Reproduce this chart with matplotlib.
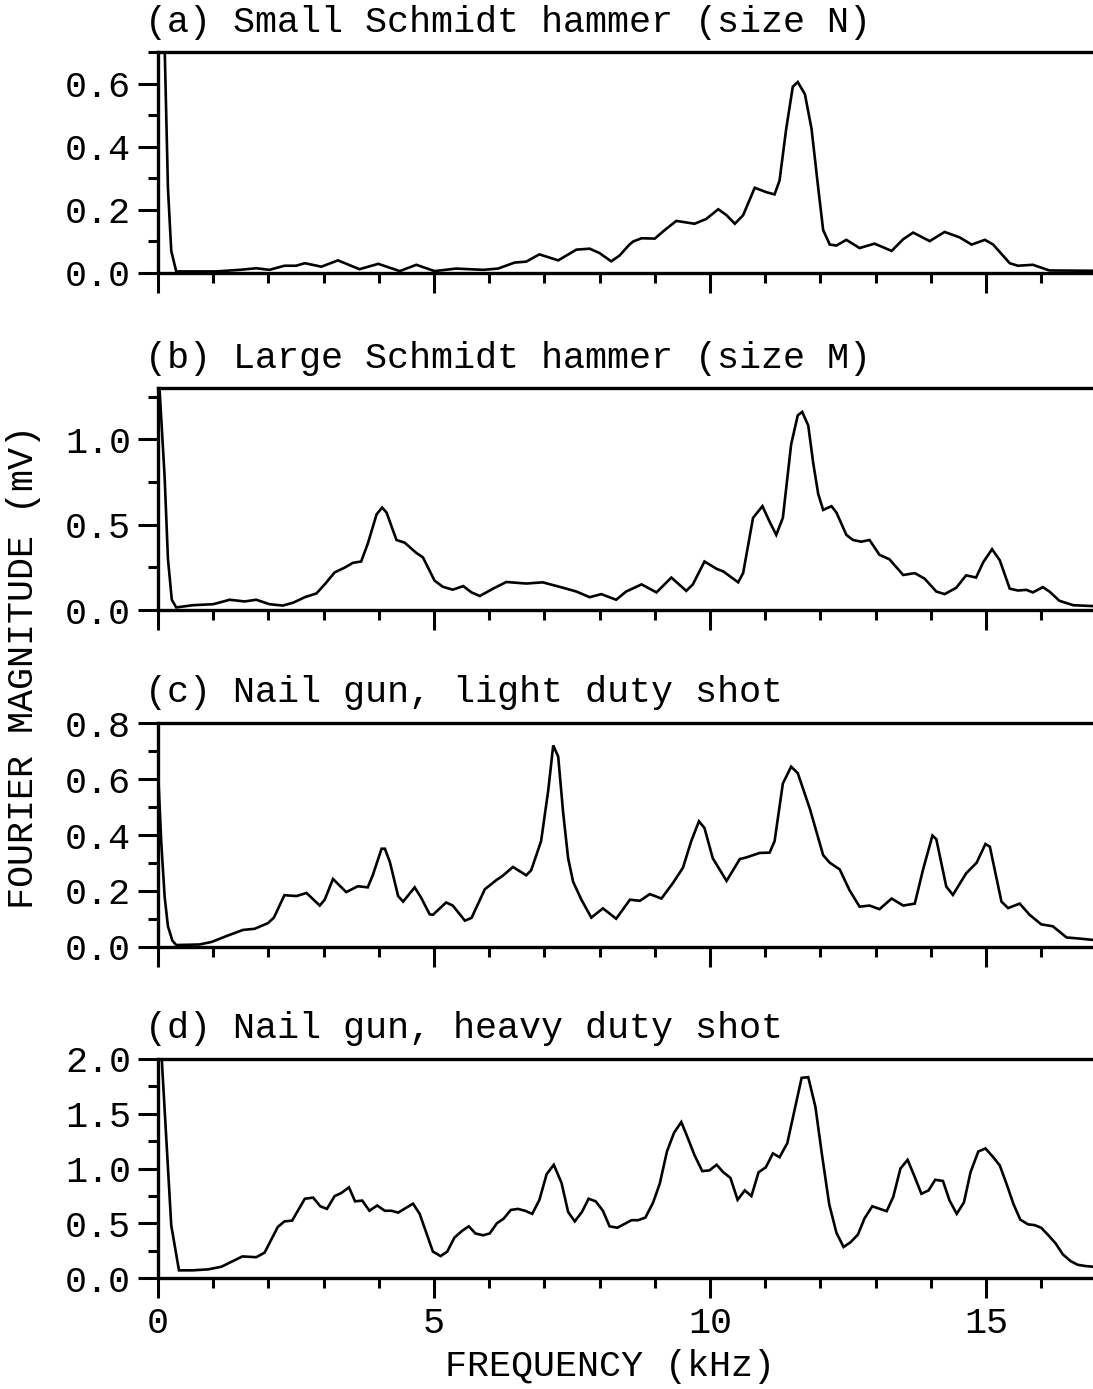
import matplotlib
matplotlib.use("Agg")
import matplotlib.pyplot as plt
from matplotlib.ticker import FixedLocator, FormatStrFormatter, NullFormatter

# ---- spectra (frequency in kHz, magnitude in mV) ----
freq_a = [0.0, 0.12, 0.18, 0.24, 0.33, 1.06, 1.48, 1.78, 2.02, 2.29, 2.5, 2.66, 2.96, 3.26,
          3.65, 3.99, 4.38, 4.68, 5.01, 5.40, 5.89, 6.16, 6.46, 6.67, 6.91, 7.25, 7.58, 7.82,
          8.0, 8.21, 8.36, 8.54, 8.61, 8.76, 9.0, 9.18, 9.39, 9.72, 9.93, 10.15, 10.30, 10.45,
          10.6, 10.81, 11.02, 11.17, 11.26, 11.38, 11.5, 11.59, 11.72, 11.84, 11.96, 12.05,
          12.17, 12.29, 12.47, 12.71, 12.98, 13.29, 13.5, 13.68, 13.98, 14.25, 14.52, 14.74,
          14.98, 15.13, 15.43, 15.58, 15.85, 16.15, 17.0]
mag_a = [1.6, 0.72, 0.27, 0.07, 0.005, 0.005, 0.01, 0.015, 0.01, 0.023, 0.023, 0.031, 0.02, 0.04,
         0.012, 0.029, 0.006, 0.026, 0.006, 0.014, 0.01, 0.014, 0.033, 0.036, 0.059, 0.04, 0.074, 0.077,
         0.063, 0.037, 0.055, 0.090, 0.10, 0.11, 0.109, 0.136, 0.165, 0.156, 0.171, 0.202, 0.183, 0.156,
         0.183, 0.27, 0.256, 0.249, 0.293, 0.456, 0.59, 0.605, 0.566, 0.456, 0.27, 0.136,
         0.09, 0.087, 0.105, 0.079, 0.093, 0.07, 0.107, 0.128, 0.101, 0.13, 0.113, 0.09,
         0.105, 0.09, 0.031, 0.023, 0.026, 0.008, 0.007]

freq_b = [0.0, 0.12, 0.18, 0.25, 0.33, 0.63, 1.0, 1.3, 1.57, 1.78, 2.02, 2.26, 2.45, 2.66, 2.87,
          3.02, 3.2, 3.38, 3.53, 3.68, 3.8, 3.96, 4.06, 4.14, 4.32, 4.47, 4.68, 4.8, 5.01, 5.16,
          5.34, 5.53, 5.68, 5.83, 6.07, 6.31, 6.67, 6.97, 7.34, 7.58, 7.82, 8.03, 8.3, 8.48,
          8.76, 9.03, 9.3, 9.57, 9.69, 9.9, 10.12, 10.24, 10.51, 10.6, 10.78, 10.95, 11.08,
          11.2, 11.32, 11.47, 11.59, 11.67, 11.78, 11.87, 11.96, 12.05, 12.2, 12.29, 12.47,
          12.59, 12.74, 12.89, 13.07, 13.25, 13.5, 13.71, 13.89, 14.1, 14.25, 14.46, 14.64,
          14.82, 14.95, 15.11, 15.25, 15.43, 15.58, 15.73, 15.85, 16.03, 16.15, 16.33, 16.58, 17.0]
mag_b = [1.45, 0.78, 0.30, 0.06, 0.015, 0.028, 0.034, 0.06, 0.05, 0.06, 0.034, 0.026, 0.043, 0.075, 0.097,
         0.15, 0.22, 0.248, 0.276, 0.284, 0.388, 0.56, 0.60, 0.571, 0.41, 0.394, 0.334, 0.308, 0.172, 0.136,
         0.119, 0.14, 0.103, 0.082, 0.125, 0.164, 0.155, 0.162, 0.13, 0.108, 0.075, 0.093, 0.06, 0.108,
         0.15, 0.103, 0.19, 0.112, 0.15, 0.284, 0.241, 0.226, 0.162, 0.216, 0.54, 0.608, 0.517,
         0.44, 0.54, 0.97, 1.14, 1.16, 1.08, 0.86, 0.68, 0.586, 0.608, 0.571, 0.44,
         0.41, 0.40, 0.41, 0.323, 0.297, 0.205, 0.216, 0.183, 0.108, 0.093, 0.13, 0.203,
         0.19, 0.28, 0.356, 0.291, 0.125, 0.114, 0.118, 0.103, 0.134, 0.108, 0.054, 0.028, 0.022]

freq_c = [0.0, 0.06, 0.12, 0.18, 0.26, 0.33, 0.75, 0.97, 1.24, 1.54, 1.75, 1.99, 2.10, 2.29, 2.51,
          2.69, 2.93, 3.02, 3.17, 3.41, 3.62, 3.8, 3.89, 4.05, 4.11, 4.2, 4.35, 4.44, 4.65, 4.77,
          4.92, 4.98, 5.22, 5.34, 5.56, 5.68, 5.92, 6.13, 6.25, 6.43, 6.67, 6.76, 6.94, 7.07,
          7.16, 7.25, 7.34, 7.43, 7.52, 7.67, 7.85, 8.06, 8.3, 8.55, 8.73, 8.91, 9.12, 9.33,
          9.51, 9.66, 9.8, 9.9, 10.05, 10.3, 10.54, 10.66, 10.9, 11.08, 11.17, 11.32, 11.47,
          11.59, 11.81, 12.05, 12.17, 12.35, 12.53, 12.71, 12.89, 13.07, 13.29, 13.5, 13.71,
          13.86, 14.03, 14.1, 14.28, 14.4, 14.64, 14.83, 14.99, 15.07, 15.28, 15.4, 15.61,
          15.79, 16.0, 16.21, 16.46, 16.7, 17.0]
mag_c = [0.63, 0.37, 0.18, 0.074, 0.023, 0.007, 0.009, 0.018, 0.039, 0.061, 0.065, 0.085, 0.105, 0.185, 0.182,
         0.193, 0.148, 0.169, 0.243, 0.196, 0.217, 0.213, 0.256, 0.351, 0.351, 0.304, 0.182, 0.162, 0.213, 0.175,
         0.117, 0.115, 0.159, 0.148, 0.094, 0.104, 0.206, 0.239, 0.255, 0.286, 0.256, 0.274, 0.378, 0.56,
         0.72, 0.68, 0.479, 0.317, 0.233, 0.169, 0.105, 0.138, 0.101, 0.169, 0.165, 0.189, 0.173, 0.229,
         0.283, 0.378, 0.449, 0.425, 0.317, 0.236, 0.314, 0.32, 0.336, 0.337, 0.378, 0.584, 0.644,
         0.621, 0.493, 0.328, 0.301, 0.277, 0.202, 0.144, 0.148, 0.135, 0.173, 0.148, 0.155,
         0.277, 0.398, 0.385, 0.216, 0.186, 0.263, 0.301, 0.368, 0.358, 0.162, 0.139, 0.155,
         0.115, 0.081, 0.074, 0.034, 0.03, 0.024]

freq_d = [0.0, 0.24, 0.38, 0.63, 0.91, 1.15, 1.33, 1.53, 1.78, 1.93, 2.17, 2.29, 2.43, 2.66, 2.81,
          2.94, 3.06, 3.2, 3.32, 3.46, 3.57, 3.7, 3.83, 3.97, 4.11, 4.23, 4.35, 4.62, 4.74, 4.86,
          4.98, 5.12, 5.24, 5.37, 5.51, 5.63, 5.75, 5.89, 6.01, 6.14, 6.26, 6.39, 6.52, 6.65,
          6.78, 6.91, 7.04, 7.17, 7.31, 7.43, 7.55, 7.68, 7.8, 7.93, 8.06, 8.18, 8.32, 8.58,
          8.7, 8.83, 8.97, 9.09, 9.22, 9.35, 9.48, 9.6, 9.72, 9.86, 9.99, 10.12, 10.24, 10.37,
          10.5, 10.63, 10.75, 10.88, 11.01, 11.14, 11.26, 11.4, 11.52, 11.66, 11.78, 11.91,
          12.03, 12.16, 12.29, 12.42, 12.55, 12.68, 12.8, 12.94, 13.2, 13.32, 13.45, 13.58,
          13.71, 13.83, 13.96, 14.08, 14.22, 14.34, 14.47, 14.6, 14.72, 14.86, 14.99, 15.12,
          15.25, 15.37, 15.5, 15.62, 15.76, 15.88, 16.0, 16.13, 16.26, 16.39, 16.53, 16.66,
          16.79, 17.0]
mag_d = [2.6, 0.48, 0.07, 0.07, 0.079, 0.103, 0.148, 0.197, 0.19, 0.231, 0.466, 0.517, 0.524, 0.724, 0.734,
         0.655, 0.631, 0.748, 0.776, 0.828, 0.70, 0.707, 0.614, 0.662, 0.614, 0.614, 0.597, 0.679, 0.586, 0.414,
         0.241, 0.20, 0.241, 0.369, 0.431, 0.472, 0.407, 0.39, 0.407, 0.50, 0.541, 0.621, 0.631, 0.614,
         0.586, 0.714, 0.948, 1.034, 0.869, 0.603, 0.517, 0.603, 0.724, 0.70, 0.614, 0.472, 0.459, 0.528,
         0.528, 0.552, 0.69, 0.862, 1.155, 1.328, 1.424, 1.276, 1.121, 0.976, 0.983, 1.034, 0.966, 0.914,
         0.714, 0.80, 0.748, 0.966, 1.01, 1.138, 1.103, 1.231, 1.507, 1.828, 1.834, 1.562,
         1.121, 0.672, 0.414, 0.283, 0.328, 0.397, 0.545, 0.655, 0.61, 0.741, 1.0, 1.079,
         0.921, 0.769, 0.80, 0.897, 0.886, 0.707, 0.586, 0.69, 0.966, 1.155, 1.183, 1.11,
         1.028, 0.862, 0.672, 0.534, 0.49, 0.483, 0.459, 0.39, 0.317, 0.217, 0.155, 0.121,
         0.11, 0.10]

titles = ["(a) Small Schmidt hammer (size N)",
          "(b) Large Schmidt hammer (size M)",
          "(c) Nail gun, light duty shot",
          "(d) Nail gun, heavy duty shot"]
y_limits = [0.7, 1.3, 0.8, 2.0]
y_major = [[0.0, 0.2, 0.4, 0.6],
           [0.0, 0.5, 1.0],
           [0.0, 0.2, 0.4, 0.6, 0.8],
           [0.0, 0.5, 1.0, 1.5, 2.0]]
y_minor = [[0.1, 0.3, 0.5, 0.7],
           [0.25, 0.75, 1.25],
           [0.1, 0.3, 0.5, 0.7],
           [0.25, 0.75, 1.25, 1.75]]
x_major = [0, 5, 10, 15]
x_minor = [1, 2, 3, 4, 6, 7, 8, 9, 11, 12, 13, 14, 16]
x_labels = ["0", "5", "10", "15"]

series = [(freq_a, mag_a), (freq_b, mag_b), (freq_c, mag_c), (freq_d, mag_d)]

# ---- layout in pixels ----
W, H = 1093, 1389
FONT = "Liberation Mono"
FS = 26.5
plt.rcParams["font.family"] = FONT

fig = plt.figure(figsize=(W / 100, H / 100), dpi=100)

ax_left = 158
ax_width = 17 * 55.2
panel_px = [(52, 273), (388, 610), (723, 947), (1059, 1278)]  # (top, bottom)

for i, ((top, bot), (fx, my)) in enumerate(zip(panel_px, series)):
    ax = fig.add_axes([ax_left / W, 1 - bot / H, ax_width / W, (bot - top) / H])
    ax.plot(fx, my, color="black", lw=1.9, solid_joinstyle="miter")
    ax.set_xlim(0, 17)
    ax.set_ylim(0, y_limits[i])

    for side in ("left", "top", "bottom"):
        ax.spines[side].set_linewidth(2.4)
    ax.spines["right"].set_visible(False)

    ax.yaxis.set_major_locator(FixedLocator(y_major[i]))
    ax.yaxis.set_minor_locator(FixedLocator(y_minor[i]))
    ax.yaxis.set_major_formatter(FormatStrFormatter("%.1f"))
    ax.xaxis.set_major_locator(FixedLocator(x_major))
    ax.xaxis.set_minor_locator(FixedLocator(x_minor))
    ax.xaxis.set_minor_formatter(NullFormatter())

    ax.tick_params(axis="both", which="major", direction="out", length=14.5, width=2.2,
                   labelsize=FS, colors="black")
    ax.tick_params(axis="both", which="minor", direction="out", length=7.5, width=2.2)
    ax.tick_params(axis="y", which="major", pad=5)
    ax.tick_params(axis="x", which="major", pad=5.5)
    ax.tick_params(top=False, right=False)

    if i == len(series) - 1:
        ax.set_xticklabels(x_labels)
    else:
        ax.tick_params(axis="x", labelbottom=False)

    fig.text(145 / W, 1 - (top - 30) / H, titles[i], fontsize=FS,
             ha="left", va="center", color="black")

fig.text(24 / W, 1 - 667 / H, "FOURIER MAGNITUDE (mV)", rotation=90,
         fontsize=FS, ha="center", va="center", color="black")
fig.text(610 / W, 1 - 1366 / H, "FREQUENCY (kHz)", fontsize=FS,
         ha="center", va="center", color="black")

fig.savefig("out.png", dpi=100, facecolor="white")
